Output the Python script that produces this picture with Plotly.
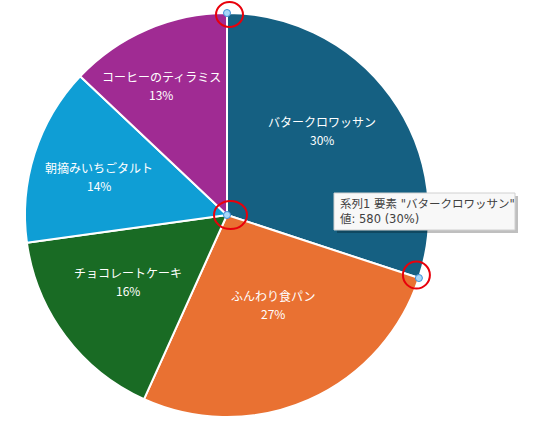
import math
import plotly.graph_objects as go

W, H = 540, 426

labels = ["バタークロワッサン", "ふんわり食パン", "チョコレートケーキ", "朝摘みいちごタルト", "コーヒーのティラミス"]
values = [580, 515, 310, 275, 250]
colors = ["#156082", "#E97132", "#196B24", "#0F9ED5", "#A02B93"]
series_name = "系列1"
selected = 0

# pie geometry in pixels
CX, CY, R = 227, 215, 202
FONT = "Noto Sans CJK JP"
TIP_FONT = "DejaVu Sans, Noto Sans CJK JP"
# label placement: radius fraction and angle tweak (deg) per slice
label_r = [0.63, 0.50, 0.59, 0.66, 0.72]
label_da = [-6, -3.5, 3, -1, -3.5]
# red marker rings: offset from handle (px) and radii
ring_off = [(2.5, 1.5), (3.5, 0), (-2.5, -3)]
ring_rad = [(13.5, 12.5), (16.5, 14), (13.5, 13.5)]


def px_x(x):
    return x / W


def px_y(y):
    return 1 - y / H


fig = go.Figure(go.Pie(
    labels=labels,
    values=values,
    sort=False,
    direction="clockwise",
    rotation=0,
    marker=dict(colors=colors, line=dict(color="white", width=2)),
    textinfo="none",
    hoverinfo="skip",
    showlegend=False,
    domain=dict(x=[px_x(CX - R), px_x(CX + R)], y=[px_y(CY + R), px_y(CY - R)]),
))

total = sum(values)
annotations = []
cum = 0
for i, (lab, v) in enumerate(zip(labels, values)):
    mid = (cum + v / 2) / total * 360 + label_da[i]
    cum += v
    a = math.radians(mid)
    lx = CX + label_r[i] * R * math.sin(a)
    ly = CY - label_r[i] * R * math.cos(a)
    for txt, dy in ((lab, -9), (f"{v / total:.0%}", 9)):
        annotations.append(dict(
            text=txt, xref="paper", yref="paper",
            x=px_x(lx), y=px_y(ly + dy), xanchor="center", yanchor="middle",
            showarrow=False, font=dict(family=FONT, size=12, color="white"),
        ))

# selection handles at the corners of the selected slice
start = sum(values[:selected]) / total * 2 * math.pi
end = sum(values[:selected + 1]) / total * 2 * math.pi
handles = [
    (CX + R * math.sin(start), CY - R * math.cos(start)),
    (CX, CY),
    (CX + R * math.sin(end), CY - R * math.cos(end)),
]
shapes = []
for (hx, hy), (ox, oy), (rx, ry) in zip(handles, ring_off, ring_rad):
    shapes.append(dict(type="circle", xref="paper", yref="paper",
                       xsizemode="pixel", ysizemode="pixel",
                       xanchor=px_x(hx), yanchor=px_y(hy),
                       x0=-3.5, x1=3.5, y0=-3.5, y1=3.5,
                       fillcolor="#A8D8F8", line=dict(color="#3D8FD8", width=1)))
    shapes.append(dict(type="circle", xref="paper", yref="paper",
                       xsizemode="pixel", ysizemode="pixel",
                       xanchor=px_x(hx + ox), yanchor=px_y(hy + oy),
                       x0=-rx, x1=rx, y0=-ry, y1=ry,
                       line=dict(color="#E8000B", width=2)))

# tooltip box
tx0, ty0, tx1, ty1 = 334, 193, 515, 230
shapes.append(dict(type="rect", xref="paper", yref="paper",
                   x0=px_x(tx0 + 3), x1=px_x(tx1 + 3), y0=px_y(ty1 + 3), y1=px_y(ty0 + 3),
                   fillcolor="rgba(0,0,0,0.25)", line=dict(width=0), layer="above"))
shapes.append(dict(type="rect", xref="paper", yref="paper",
                   x0=px_x(tx0), x1=px_x(tx1), y0=px_y(ty1), y1=px_y(ty0),
                   fillcolor="#F8F8F8", line=dict(color="#D0D0D0", width=1), layer="above"))

pct = values[selected] / total
tip = f'{series_name} 要素 "{labels[selected]}"<br>値: {values[selected]} ({pct:.0%})'
annotations.append(dict(
    text=tip, xref="paper", yref="paper",
    x=px_x(tx0 + 4), y=px_y(ty0 + 2), xanchor="left", yanchor="top",
    showarrow=False, align="left",
    font=dict(family=TIP_FONT, size=11.5, color="#404040"),
))

fig.update_layout(
    width=W,
    height=H,
    margin=dict(l=0, r=0, t=0, b=0),
    paper_bgcolor="white",
    shapes=shapes,
    annotations=annotations,
)

fig.write_html("out.html", config={"displayModeBar": False},
               post_script="document.body.style.margin='0';")
